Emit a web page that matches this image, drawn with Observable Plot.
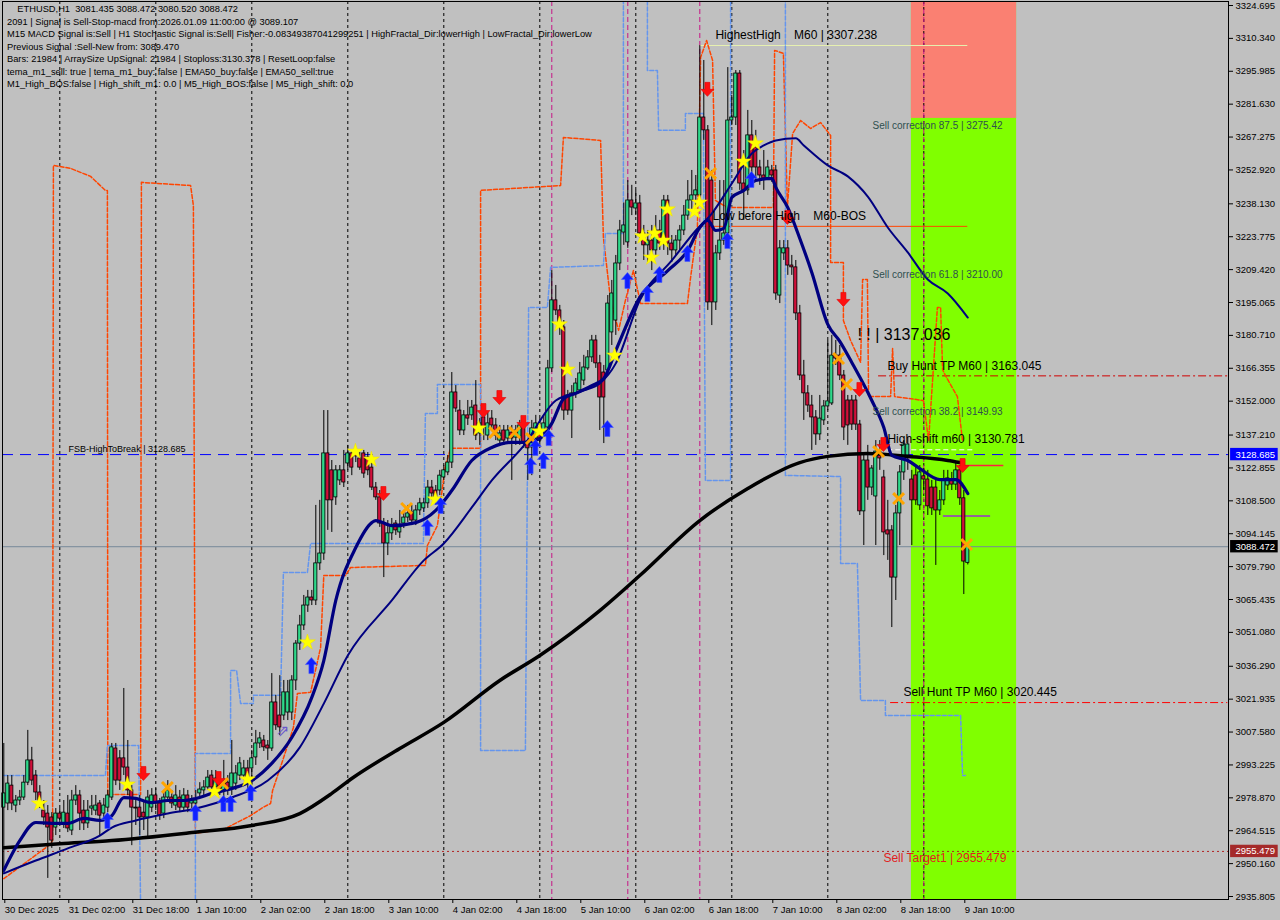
<!DOCTYPE html>
<html>
<head>
<meta charset="utf-8">
<script src="https://cdn.jsdelivr.net/npm/d3@7"></script>
<script src="https://cdn.jsdelivr.net/npm/@observablehq/plot@0.6"></script>
<style>
  body { margin: 0; background: #c0c0c0; }
  #chart { position: relative; width: 1280px; height: 920px; }
  #info { position: absolute; left: 7px; top: 3px; font: 9.3px "Liberation Sans", Arial, sans-serif;
          line-height: 12.5px; color: #000; white-space: pre; }
</style>
</head>
<body>
<div id="chart"><div id="info"></div></div>
<script>
// hourly ETHUSD candles, bar 0 = 30 Dec 10:00
const open = [
  2974.6, 2976.4, 2984.2, 2975.5, 2977.7, 2979.0, 2985.5, 2995.2, 2988.6, 2981.2,
  2973.3, 2972.0, 2970.3, 2965.9, 2972.0, 2967.7, 2972.0, 2964.6, 2977.7, 2979.9,
  2973.3, 2967.7, 2974.2, 2973.3, 2976.4, 2972.0, 2974.6, 2979.0, 3000.4, 2996.1,
  2996.1, 2992.1, 2982.1, 2974.6, 2974.6, 2972.4, 2970.3, 2974.6, 2979.9, 2976.4,
  2972.0, 2979.0, 2979.0, 2975.5, 2979.0, 2974.6, 2979.9, 2976.4, 2976.4, 2980.8,
  2982.1, 2983.4, 2988.6, 2983.4, 2986.4, 2982.1, 2985.5, 2983.4, 2985.1, 2988.6,
  2988.6, 2991.7, 2991.7, 2996.5, 3002.6, 3003.9, 3001.7, 3000.4, 3020.5, 3014.8,
  3014.8, 3016.1, 3016.1, 3030.1, 3046.2, 3054.1, 3062.8, 3066.3, 3065.0, 3081.2,
  3085.5, 3129.2, 3121.8, 3110.0, 3117.4, 3121.8, 3124.8, 3129.2, 3129.2, 3127.0,
  3129.2, 3127.4, 3123.0, 3114.3, 3110.0, 3098.6, 3089.9, 3094.3, 3098.6, 3094.7,
  3098.6, 3101.2, 3103.4, 3099.9, 3104.3, 3105.2, 3107.4, 3114.3, 3113.0, 3113.0,
  3118.7, 3120.9, 3125.2, 3155.8, 3147.9, 3139.2, 3145.8, 3145.8, 3150.1, 3137.9,
  3144.9, 3137.0, 3144.4, 3141.4, 3134.8, 3139.2, 3135.7, 3138.3, 3136.1, 3136.1,
  3140.5, 3133.5, 3131.8, 3136.1, 3140.5, 3139.2, 3140.5, 3166.3, 3196.0, 3191.6,
  3184.2, 3154.5, 3147.9, 3155.4, 3156.7, 3161.0, 3166.3, 3171.1, 3178.5, 3168.5,
  3164.5, 3165.4, 3182.0, 3187.2, 3212.1, 3225.6, 3221.3, 3239.6, 3236.1, 3238.3,
  3225.2, 3220.0, 3222.1, 3217.8, 3226.5, 3220.8, 3239.6, 3220.8, 3217.8, 3222.1,
  3226.5, 3233.0, 3239.6, 3241.8, 3241.8, 3275.8, 3270.2, 3248.3, 3195.1, 3216.5,
  3222.1, 3225.2, 3274.5, 3275.8, 3295.0, 3247.0, 3244.0, 3268.0, 3262.7, 3254.0,
  3250.5, 3249.2, 3252.7, 3252.7, 3198.1, 3216.5, 3218.7, 3211.2, 3210.4, 3190.3,
  3163.2, 3155.4, 3150.1, 3144.9, 3137.5, 3143.6, 3149.7, 3151.0, 3171.9, 3171.9,
  3163.2, 3152.3, 3152.3, 3152.3, 3141.8, 3103.9, 3126.1, 3114.3, 3110.4, 3130.0,
  3118.7, 3095.6, 3095.6, 3075.0, 3103.0, 3120.9, 3128.3, 3117.8, 3119.6, 3106.5,
  3119.2, 3117.8, 3114.3, 3114.3, 3104.3, 3108.7, 3115.2, 3117.4, 3115.6, 3121.8,
  3109.6, 3081.435
];
const high = [
  3002.6, 2988.6, 2988.6, 2979.9, 2982.1, 2988.6, 3008.3, 3000.9, 2990.8, 2984.2,
  2977.7, 2975.5, 2972.4, 2974.2, 2974.2, 2977.7, 2979.9, 2982.1, 2984.2, 2982.1,
  2977.7, 2977.7, 2979.9, 2979.9, 2977.7, 2978.6, 2982.1, 3002.6, 3002.6, 2999.5,
  3026.6, 3003.9, 2984.2, 2977.7, 2979.9, 2977.7, 2982.1, 2982.9, 2982.9, 2978.6,
  2982.1, 2986.4, 2982.1, 2984.2, 2982.1, 2982.9, 2982.1, 2979.9, 2982.1, 2985.5,
  2986.4, 2990.8, 2990.8, 2990.8, 2989.9, 2995.2, 2988.6, 3003.9, 2993.0, 2996.5,
  2995.2, 2995.2, 2999.5, 3008.3, 3007.4, 3006.1, 3003.9, 3033.1, 3023.6, 3032.2,
  3030.1, 3030.1, 3032.2, 3047.5, 3058.5, 3067.2, 3069.4, 3069.4, 3106.5, 3108.7,
  3147.9, 3147.9, 3126.1, 3123.9, 3123.9, 3130.5, 3132.7, 3130.5, 3130.5, 3129.6,
  3130.5, 3129.6, 3126.1, 3116.5, 3113.0, 3100.8, 3099.9, 3100.8, 3099.9, 3104.3,
  3104.3, 3106.5, 3106.5, 3106.5, 3109.6, 3109.6, 3117.4, 3117.4, 3115.2, 3121.8,
  3123.9, 3128.3, 3164.5, 3158.8, 3152.3, 3147.9, 3152.3, 3152.3, 3161.0, 3144.4,
  3147.9, 3147.1, 3147.9, 3144.4, 3141.4, 3141.4, 3141.4, 3141.4, 3141.4, 3143.6,
  3143.6, 3134.8, 3143.6, 3145.8, 3144.4, 3145.8, 3169.8, 3209.0, 3202.5, 3193.8,
  3187.2, 3156.7, 3158.8, 3161.9, 3168.9, 3172.0, 3174.1, 3180.7, 3180.7, 3172.0,
  3167.6, 3198.1, 3204.7, 3215.6, 3230.9, 3238.5, 3248.3, 3246.2, 3244.0, 3241.8,
  3228.7, 3226.5, 3228.7, 3233.0, 3230.9, 3241.8, 3241.8, 3224.3, 3224.3, 3228.7,
  3237.4, 3248.3, 3252.7, 3250.5, 3307.2, 3300.7, 3272.3, 3252.7, 3220.0, 3248.3,
  3248.3, 3297.6, 3285.5, 3296.3, 3296.3, 3261.4, 3278.9, 3274.5, 3270.2, 3257.1,
  3261.4, 3257.1, 3254.9, 3254.9, 3222.1, 3222.1, 3222.1, 3215.6, 3213.4, 3193.8,
  3169.8, 3158.8, 3154.5, 3147.9, 3154.5, 3152.3, 3178.5, 3180.7, 3178.5, 3176.3,
  3165.4, 3154.5, 3154.5, 3154.5, 3143.6, 3128.3, 3132.7, 3123.9, 3134.8, 3134.8,
  3121.8, 3108.7, 3097.7, 3106.5, 3123.9, 3134.8, 3136.1, 3121.8, 3123.9, 3123.9,
  3122.6, 3121.8, 3117.4, 3118.3, 3113.0, 3121.8, 3121.8, 3120.9, 3125.2, 3123.9,
  3113.0, 3088.472
];
const low = [
  2945.9, 2973.3, 2973.3, 2972.4, 2975.5, 2977.7, 2984.2, 2984.2, 2977.7, 2974.2,
  2966.8, 2943.7, 2956.8, 2962.4, 2968.1, 2965.5, 2963.7, 2962.4, 2975.5, 2964.6,
  2964.6, 2965.5, 2971.1, 2971.1, 2962.4, 2969.8, 2972.4, 2977.7, 2984.2, 2982.1,
  2988.6, 2979.9, 2958.0, 2966.8, 2962.4, 2964.6, 2961.5, 2972.4, 2973.3, 2969.0,
  2969.8, 2977.7, 2974.2, 2973.3, 2972.4, 2973.3, 2972.4, 2974.2, 2974.2, 2979.0,
  2979.9, 2982.1, 2979.9, 2981.2, 2979.9, 2977.7, 2979.9, 2979.9, 2982.1, 2986.4,
  2986.4, 2982.1, 2984.2, 2993.0, 3000.4, 2999.1, 2995.2, 2999.1, 3008.3, 3006.1,
  3012.6, 3012.6, 3012.6, 3025.7, 3043.2, 3051.9, 3059.8, 3062.8, 3062.8, 3078.1,
  3082.5, 3095.6, 3094.7, 3106.5, 3115.2, 3114.3, 3121.8, 3119.5, 3125.2, 3121.8,
  3118.3, 3119.5, 3113.0, 3108.7, 3096.9, 3075.0, 3084.6, 3091.2, 3093.4, 3092.1,
  3096.4, 3099.0, 3097.7, 3097.7, 3102.1, 3103.4, 3105.2, 3108.7, 3106.5, 3110.8,
  3117.4, 3119.5, 3122.6, 3147.1, 3137.0, 3137.0, 3141.4, 3143.6, 3134.8, 3132.7,
  3134.8, 3134.8, 3139.2, 3134.8, 3132.7, 3132.7, 3133.5, 3117.4, 3132.7, 3132.7,
  3131.4, 3117.4, 3119.5, 3132.7, 3132.7, 3137.0, 3138.3, 3164.5, 3189.4, 3180.7,
  3143.6, 3145.8, 3135.7, 3153.2, 3155.4, 3158.8, 3165.4, 3168.9, 3166.3, 3139.2,
  3133.5, 3163.2, 3176.3, 3180.7, 3209.0, 3220.0, 3218.7, 3233.0, 3233.0, 3223.0,
  3213.4, 3212.5, 3209.0, 3215.6, 3217.8, 3217.8, 3215.6, 3212.5, 3215.6, 3217.8,
  3224.3, 3230.9, 3235.2, 3237.4, 3239.6, 3265.8, 3191.6, 3185.0, 3191.6, 3213.4,
  3220.0, 3222.1, 3272.3, 3272.3, 3244.0, 3230.9, 3241.8, 3250.5, 3248.3, 3246.2,
  3244.0, 3248.3, 3247.5, 3196.0, 3194.6, 3213.4, 3206.9, 3206.9, 3187.2, 3161.0,
  3143.6, 3147.1, 3130.5, 3132.7, 3134.8, 3141.4, 3147.9, 3150.1, 3167.6, 3161.0,
  3134.8, 3132.7, 3139.2, 3139.2, 3102.1, 3089.0, 3108.7, 3110.8, 3089.0, 3121.8,
  3084.6, 3082.5, 3053.2, 3065.0, 3089.0, 3117.4, 3121.8, 3089.0, 3106.5, 3104.3,
  3113.0, 3102.1, 3102.1, 3080.3, 3102.1, 3106.5, 3113.0, 3113.0, 3113.0, 3106.5,
  3067.6, 3080.520
];
const close = [
  2980.8, 2985.1, 2976.4, 2977.7, 2979.0, 2985.5, 2995.2, 2986.4, 2981.2, 2977.7,
  2970.3, 2965.9, 2960.2, 2972.0, 2969.8, 2972.4, 2965.5, 2977.7, 2979.9, 2972.0,
  2967.7, 2973.3, 2975.1, 2975.5, 2971.1, 2975.5, 2979.9, 3000.9, 2986.4, 2986.4,
  2992.1, 2982.1, 2974.6, 2974.2, 2970.3, 2970.3, 2979.0, 2979.9, 2976.4, 2971.1,
  2979.0, 2982.1, 2976.4, 2979.9, 2974.6, 2979.9, 2974.6, 2977.7, 2977.7, 2982.5,
  2983.4, 2987.7, 2983.4, 2987.3, 2982.1, 2986.4, 2982.9, 2989.5, 2989.5, 2993.9,
  2991.7, 2985.1, 2996.1, 3002.6, 3004.8, 3000.9, 3000.4, 3020.5, 3010.5, 3009.6,
  3024.9, 3024.9, 3030.1, 3046.2, 3054.1, 3062.8, 3066.3, 3065.0, 3081.2, 3085.5,
  3129.2, 3108.7, 3108.7, 3121.8, 3121.8, 3116.5, 3129.2, 3123.0, 3127.9, 3123.0,
  3120.4, 3121.8, 3114.3, 3110.0, 3098.6, 3089.9, 3094.3, 3097.7, 3095.6, 3096.9,
  3101.2, 3103.0, 3099.9, 3104.3, 3107.4, 3107.4, 3114.3, 3111.7, 3108.7, 3119.5,
  3121.8, 3125.2, 3155.8, 3148.8, 3139.2, 3145.8, 3144.4, 3149.2, 3137.0, 3142.3,
  3140.5, 3142.3, 3141.4, 3137.0, 3137.9, 3134.8, 3139.2, 3135.7, 3139.2, 3141.4,
  3133.5, 3131.4, 3140.1, 3142.3, 3134.8, 3142.3, 3166.3, 3196.0, 3191.6, 3184.2,
  3147.9, 3147.9, 3155.4, 3159.7, 3164.1, 3166.7, 3171.1, 3178.5, 3168.5, 3153.6,
  3153.6, 3194.6, 3199.0, 3212.1, 3226.5, 3228.7, 3239.6, 3236.5, 3238.3, 3225.2,
  3220.0, 3222.1, 3217.8, 3226.5, 3220.8, 3239.6, 3220.8, 3217.8, 3222.1, 3226.5,
  3233.0, 3239.6, 3241.8, 3244.0, 3275.8, 3270.2, 3195.1, 3195.1, 3216.5, 3222.1,
  3225.2, 3274.5, 3275.8, 3295.0, 3247.0, 3244.0, 3268.0, 3254.0, 3254.0, 3250.5,
  3249.2, 3254.0, 3250.5, 3199.0, 3218.7, 3218.7, 3211.2, 3210.4, 3190.3, 3163.2,
  3155.4, 3150.1, 3144.9, 3137.5, 3144.4, 3149.7, 3151.9, 3171.9, 3170.6, 3163.2,
  3140.5, 3141.4, 3141.8, 3141.8, 3103.9, 3126.1, 3114.3, 3122.6, 3130.0, 3127.0,
  3094.7, 3093.8, 3075.0, 3103.0, 3120.9, 3133.1, 3133.1, 3108.7, 3108.7, 3120.9,
  3117.8, 3106.1, 3105.2, 3104.3, 3108.7, 3117.8, 3118.3, 3115.6, 3121.8, 3109.6,
  3082.0, 3088.472
];

// moving averages (bar index, price)
const slowMaBar = [0, 14, 27, 47, 62, 74, 82, 87, 99, 110, 124, 134, 149, 159, 174, 186, 199, 206, 216, 226, 236, 239];
const slowMaVal = [2957.1, 2958.8, 2960.2, 2963.7, 2966.8, 2972.0, 2980.8, 2987.3, 3000.4, 3011.8, 3030.1, 3041.0,
  3060.6, 3075.9, 3099.9, 3113.9, 3125.2, 3127.9, 3129.2, 3127.9, 3126.1, 3125.2];
const fastMaBar = [0, 4, 8, 12, 16, 20, 24, 27, 30, 33, 37, 41, 45, 48, 52, 57, 62, 67, 72, 77, 80, 83, 88, 92, 93, 97,
  103, 108, 112, 117, 122, 127, 130, 134, 137, 140, 143, 147, 150, 153, 159, 166, 171, 174, 176, 178, 180, 182, 185,
  188, 192, 193, 196, 199, 202, 206, 209, 212, 217, 220, 222, 226, 229, 234, 238, 241];
const fastMaVal = [2947.2, 2960.2, 2968.1, 2967.7, 2967.7, 2969.9, 2969.0, 2971.1, 2979.0, 2978.6, 2976.8, 2977.7,
  2977.7, 2978.6, 2980.8, 2982.9, 2986.4, 2993.9, 3005.2, 3022.7, 3038.8, 3065.0, 3088.1, 3099.0, 3099.9, 3097.7,
  3099.0, 3104.3, 3113.0, 3126.1, 3131.8, 3134.0, 3134.0, 3135.7, 3142.3, 3153.2, 3155.4, 3158.8, 3161.9, 3174.1,
  3197.3, 3209.0, 3217.8, 3227.8, 3230.9, 3226.5, 3227.4, 3240.9, 3244.0, 3248.3, 3249.2, 3245.3, 3236.5, 3223.0,
  3208.2, 3185.5, 3178.1, 3168.9, 3152.3, 3140.5, 3128.3, 3126.1, 3122.6, 3117.8, 3117.8, 3111.7];
const midMaBar = [0, 8, 16, 24, 27, 33, 41, 48, 57, 66, 74, 80, 86, 97, 105, 110, 117, 122, 130, 138, 145, 149, 153,
  159, 167, 173, 177, 182, 187, 190, 193, 198, 200, 206, 211, 216, 221, 226, 231, 236, 241];
const midMaVal = [2945.9, 2951.5, 2956.8, 2962.4, 2965.9, 2969.0, 2972.0, 2974.2, 2979.0, 2986.4, 3000.9, 3020.0,
  3041.0, 3065.0, 3082.5, 3089.9, 3105.6, 3117.4, 3132.6, 3152.3, 3156.7, 3159.7, 3168.5, 3196.0, 3213.4, 3226.5,
  3233.9, 3247.0, 3260.1, 3263.6, 3265.8, 3266.7, 3263.6, 3254.9, 3250.1, 3241.3, 3227.8, 3216.9, 3205.1, 3199.0, 3188.5];

// fractal channel step lines
const orangeBar = [0, 11.2, 12.2, 12.4, 16.7, 21.7, 25.4, 25.9, 26.0, 34.2, 34.4, 46.7, 47.4, 47.9, 55.4, 61.7, 64.7,
  66.7, 67.2, 69.9, 72.4, 73.4, 76.7, 79.2, 80.0, 85.4, 86.7, 105.4, 105.9, 108.4, 110.4, 111.7, 118.7, 119.2, 119.2,
  139.2, 139.9, 149.2, 149.9, 151.7, 153.7, 155.4, 157.4, 159.2, 170.9, 171.7, 173.4, 174.2, 175.7, 177.2, 177.9,
  180.9, 192.4, 192.7, 194.9, 195.9, 197.2, 199.2, 201.7, 204.2, 206.7, 206.7, 209.9, 209.9, 211.7, 214.2, 214.7,
  215.9, 216.2, 221.7, 222.2, 222.7, 229.9, 231.2, 233.4, 234.2, 234.7, 235.4, 238.4, 239.7];
const orangeVal = [2943.6, 2958.0, 2960.2, 3254.9, 3253.6, 3250.1, 3244.0, 3244.0, 2980.3, 2980.3, 3247.5, 3246.1,
  3237.4, 2963.3, 2965.5, 2971.1, 2974.6, 2976.4, 2982.1, 2996.1, 3009.6, 3024.4, 3024.9, 3044.5, 3075.9, 3075.9,
  3079.4, 3080.3, 3089.0, 3097.7, 3123.9, 3131.4, 3131.4, 3131.4, 3244.0, 3246.1, 3267.1, 3265.8, 3223.4, 3196.0,
  3182.9, 3196.0, 3209.0, 3194.6, 3194.6, 3206.0, 3227.8, 3302.0, 3309.4, 3300.7, 3239.6, 3236.5, 3236.5, 3305.1,
  3303.8, 3236.5, 3268.8, 3274.5, 3271.0, 3273.6, 3268.0, 3212.5, 3212.5, 3187.2, 3178.5, 3168.9, 3205.1, 3205.1,
  3154.0, 3154.0, 3175.0, 3154.0, 3152.3, 3134.8, 3192.9, 3192.9, 3165.8, 3163.2, 3154.0, 3134.4];
const blueBar = [0, 25.4, 25.9, 33.7, 34.2, 47.9, 47.9, 56.7, 56.7, 58.2, 59.2, 62.4, 62.4, 69.2, 69.9, 75.9, 76.7,
  104.9, 105.4, 108.4, 108.4, 119.2, 119.2, 130.4, 131.2, 135.9, 136.7, 149.9, 150.4, 154.9, 154.9, 160.9, 160.9,
  163.4, 163.7, 170.4, 170.4, 174.9, 175.4, 181.7, 181.7, 195.4, 195.4, 209.2, 209.2, 213.4, 214.2, 220.4, 220.4,
  239.2, 239.7, 240.4];
const blueVal = [2988.6, 2988.6, 3001.7, 3001.7, 2931.9, 2931.9, 2998.2, 2998.2, 3034.4, 3034.4, 3020.0, 3020.0,
  3023.6, 3023.6, 3077.2, 3077.2, 3089.9, 3089.9, 3146.6, 3146.6, 3159.3, 3159.3, 2999.5, 2999.5, 3192.9, 3192.9,
  3210.4, 3211.2, 3225.2, 3225.2, 3331.3, 3331.3, 3296.3, 3296.3, 3270.2, 3270.2, 3277.6, 3277.6, 3117.4, 3117.4,
  3331.3, 3331.3, 3119.6, 3119.1, 3081.2, 3081.2, 3021.4, 3021.4, 3014.8, 3014.8, 2988.6, 2988.6];

// signal markers
const starBar = [8.9, 30.9, 52.7, 60.9, 75.9, 87.9, 91.9, 107.9, 118.7, 133.9, 138.9, 140.9, 152.7, 159.7, 162.7,
  164.9, 161.9, 165.9, 172.7, 173.9, 184.9, 187.9];
const starPrice = [2976.4, 2984.7, 2981.6, 2986.9, 3046.7, 3130.0, 3126.5, 3109.1, 3140.1, 3138.8, 3185.5, 3165.8,
  3171.9, 3223.9, 3225.2, 3222.1, 3214.7, 3235.7, 3234.8, 3238.7, 3256.6, 3264.5];
const downBar = [34.9, 53.7, 94.9, 119.9, 123.9, 129.9, 175.9, 195.9, 209.9, 213.9, 219.9, 239.7];
const downPrice = [2989.5, 2987.3, 3111.7, 3147.9, 3153.6, 3142.7, 3288.1, 3232.2, 3196.4, 3157.1, 3133.1, 3123.9];
const upBar = [25.9, 47.9, 54.9, 56.7, 61.7, 76.9, 105.9, 109.2, 131.7, 132.9, 134.9, 136.2, 150.9, 155.9, 160.9,
  163.9, 170.9, 180.9, 186.9];
const upPrice = [2969.0, 2972.5, 2976.4, 2976.4, 2981.2, 3036.6, 3096.9, 3106.5, 3123.9, 3131.8, 3126.1, 3136.1,
  3140.1, 3204.7, 3199.0, 3207.3, 3216.5, 3222.1, 3248.8];
const crossBar = [40.9, 54.7, 100.7, 122.7, 127.7, 131.9, 176.7, 208.7, 210.7, 218.7, 223.7, 240.7];
const crossPrice = [2983.4, 2985.1, 3105.2, 3138.3, 3138.3, 3135.7, 3251.4, 3170.6, 3159.3, 3130.0, 3109.5, 3089.4];

// chart objects
const daySepBars = [14, 38, 62, 86, 110, 134, 158, 182, 206, 230];
const signalBars = [137, 156, 174, 230];
const zoneBars = [226.9, 253.2];
const sellCorr875 = 3275.42;
const fsbHigh = 3128.685;
const lastPrice = 3088.472;
const sellTarget = 2955.479;
const buyHuntTP = 3163.045;
const sellHuntTP = 3020.445;
const highestHigh = 3307.238;
const lowBeforeHigh = 3228.3;
const highShift = 3130.781;

const noteText = [
  "HighestHigh    M60 | 3307.238", "Low before High    M60-BOS",
  "Buy Hunt TP M60 | 3163.045", "High-shift m60 | 3130.781", "Sell Hunt TP M60 | 3020.445"
];
const noteBar = [177.9, 177.2, 220.9, 220.9, 224.9];
const notePrice = [3311.6, 3232.6, 3167.1, 3135.3, 3024.8];
const corrText = ["Sell correction 87.5 | 3275.42", "Sell correction 61.8 | 3210.00", "Sell correction 38.2 | 3149.93"];
const corrPrice = [3272.3, 3207.3, 3147.5];

const yTicks = [3324.695, 3310.340, 3295.985, 3281.630, 3267.275, 3252.920, 3238.130, 3223.775, 3209.420, 3195.065,
  3180.710, 3166.355, 3152.000, 3137.210, 3122.855, 3108.500, 3094.145, 3079.790, 3065.435, 3051.080, 3036.290,
  3021.935, 3007.580, 2993.225, 2978.870, 2964.515, 2950.160, 2935.805];
const xTickBars = [0, 16, 32, 48, 64, 80, 96, 112, 128, 144, 160, 176, 192, 208, 224, 240];
const xTickLabels = ["30 Dec 2025", "31 Dec 02:00", "31 Dec 18:00", "1 Jan 10:00", "2 Jan 02:00", "2 Jan 18:00",
  "3 Jan 10:00", "4 Jan 02:00", "4 Jan 18:00", "5 Jan 10:00", "6 Jan 02:00", "6 Jan 18:00", "7 Jan 10:00",
  "8 Jan 02:00", "8 Jan 18:00", "9 Jan 10:00"];
const tagPrices = [fsbHigh, lastPrice, sellTarget];
const tagFills = ["#0000ff", "#000000", "#a52a2a"];

const infoLines = [
  "    ETHUSD,H1  3081.435 3088.472 3080.520 3088.472",
  "2091 | Signal is Sell-Stop-macd from:2026.01.09 11:00:00 @ 3089.107",
  "M15 MACD Signal is:Sell | H1 Stochastic Signal is:Sell| Fisher:-0.08349387041299251 | HighFractal_Dir:lowerHigh | LowFractal_Dir:lowerLow",
  "Previous Signal :Sell-New from: 3089.470",
  "Bars: 21984 | ArraySize UpSignal: 21984 | Stoploss:3130.378 | ResetLoop:false",
  "tema_m1_sell: true | tema_m1_buy: false | EMA50_buy:false | EMA50_sell:true",
  "M1_High_BOS:false | High_shift_m1: 0.0 | M5_High_BOS:false | M5_High_shift: 0.0"
];

// arrow glyphs like the terminal's wingdings arrows
const upArrow = {
  draw(ctx) {
    ctx.moveTo(0, -8); ctx.lineTo(6, -1); ctx.lineTo(2.5, -1); ctx.lineTo(2.5, 8);
    ctx.lineTo(-2.5, 8); ctx.lineTo(-2.5, -1); ctx.lineTo(-6, -1); ctx.closePath();
  }
};
const downArrow = {
  draw(ctx) {
    ctx.moveTo(0, 7); ctx.lineTo(6.5, 0); ctx.lineTo(2.5, 0); ctx.lineTo(2.5, -7);
    ctx.lineTo(-2.5, -7); ctx.lineTo(-2.5, 0); ctx.lineTo(-6.5, 0); ctx.closePath();
  }
};

const bars = open.map((o, i) => ({i, o, h: high[i], l: low[i], c: close[i]}));
const xLabel = new Map(xTickBars.map((b, i) => [b, xTickLabels[i]]));

let chart = Plot.plot({
  width: 1280,
  height: 920,
  marginLeft: 2,
  marginRight: 52,
  marginTop: 1,
  marginBottom: 21,
  style: {background: "#c0c0c0", fontFamily: "Liberation Sans, Arial, sans-serif", fontSize: "9.5px", color: "black"},
  x: {type: "linear", domain: [0, 306], range: [3.3, 1227.3]},
  y: {domain: [2935.805, 3324.695], range: [896, 5]},
  marks: [
    // zone boxes
    Plot.rect([0], {x1: zoneBars[0], x2: zoneBars[1], y1: 2900, y2: 3340, fill: "#80ff00", clip: true}),
    Plot.rect([0], {x1: zoneBars[0], x2: zoneBars[1], y1: sellCorr875, y2: 3340, fill: "#fa8072", clip: true}),
    // separators
    Plot.ruleX(daySepBars, {stroke: "black", strokeDasharray: "3,3"}),
    Plot.ruleX(signalBars, {stroke: "#c71585", strokeDasharray: "5,3"}),
    // horizontal levels
    Plot.ruleY([sellTarget], {stroke: "#b22222", strokeDasharray: "2,3"}),
    Plot.ruleY([lastPrice], {stroke: "#778899"}),
    Plot.ruleY([fsbHigh], {stroke: "#0000ff", strokeDasharray: "11,7"}),
    Plot.ruleY([buyHuntTP], {x1: 218.7, x2: 306, stroke: "#d00000", strokeDasharray: "8,3,2,3"}),
    Plot.ruleY([sellHuntTP], {x1: 221.7, x2: 306, stroke: "#ff0000", strokeDasharray: "8,3,2,3"}),
    Plot.ruleY([highestHigh], {x1: 174, x2: 241, stroke: "#e6f0b0"}),
    Plot.ruleY([lowBeforeHigh], {x1: 174, x2: 241, stroke: "#ff4500"}),
    Plot.ruleY([highShift], {x1: 219, x2: 243, stroke: "white", strokeDasharray: "5,3"}),
    Plot.ruleY([3123.9], {x1: 239.2, x2: 250, stroke: "#ff2040", strokeWidth: 1.5}),
    Plot.ruleY([3101.9], {x1: 234.9, x2: 246.7, stroke: "#9932cc", strokeWidth: 1.5}),
    // fractal channels
    Plot.line(orangeVal, {x: orangeBar, y: orangeVal, stroke: "#ff4500", strokeDasharray: "4,2", clip: true}),
    Plot.line(blueVal, {x: blueBar, y: blueVal, stroke: "#6495ed", strokeDasharray: "4,2", clip: true}),
    // candles
    Plot.ruleX(bars, {x: "i", y1: "l", y2: "h", stroke: "black"}),
    Plot.rect(bars, {x1: d => d.i - 0.4, x2: d => d.i + 0.4, y1: "o", y2: "c",
      fill: d => d.c >= d.o ? "#2ed88a" : "#d0103a", stroke: "black", strokeWidth: 0.8}),
    // moving averages
    Plot.line(slowMaVal, {x: slowMaBar, y: slowMaVal, stroke: "black", strokeWidth: 3.5, curve: "monotone-x"}),
    Plot.line(midMaVal, {x: midMaBar, y: midMaVal, stroke: "#000080", strokeWidth: 2, curve: "monotone-x"}),
    Plot.line(fastMaVal, {x: fastMaBar, y: fastMaVal, stroke: "#000080", strokeWidth: 3.2, curve: "monotone-x"}),
    // signals
    Plot.dot(crossPrice, {x: crossBar, y: crossPrice, symbol: "times", r: 5, stroke: "#ffa500", strokeWidth: 3}),
    Plot.dot(starPrice, {x: starBar, y: starPrice, symbol: "star", r: 5, fill: "#ffff00", stroke: "#f0e000", strokeWidth: 0.5}),
    Plot.dot(upPrice, {x: upBar, y: upPrice, symbol: upArrow, fill: "#1020ff", stroke: "#4a5cff", strokeWidth: 0.6}),
    Plot.dot(downPrice, {x: downBar, y: downPrice, symbol: downArrow, fill: "#ff1010", stroke: "#e00000", strokeWidth: 0.6}),
    Plot.text([3008.1], {x: 69.7, y: d => d, text: d => "⇗", fill: "#6a5acd", fontSize: 16, fontFamily: "DejaVu Sans"}),
    // annotations
    Plot.text(noteText, {x: noteBar, y: notePrice, text: d => d, textAnchor: "start", fontSize: 12, fill: "black"}),
    Plot.text(corrText, {x: 217.2, y: corrPrice, text: d => d, textAnchor: "start", fontSize: 10, fill: "#2f4f4f"}),
    Plot.text(["! ! | 3137.036"], {x: 213.4, y: 3181.1, text: d => d, textAnchor: "start", fontSize: 16, fill: "black"}),
    Plot.text(["Sell Target1 | 2955.479"], {x: 219.9, y: 2952.4, text: d => d, textAnchor: "start", fontSize: 12, fill: "#e02020"}),
    Plot.text(["FSB-HighToBreak | 3128.685"], {x: 16.2, y: 3130.9, text: d => d, textAnchor: "start", fontSize: 9, fill: "black"}),
    // axes
    Plot.frame({stroke: "black"}),
    Plot.axisY(yTicks, {anchor: "right", tickSize: 4, tickPadding: 3, tickFormat: d => d.toFixed(3), label: null, fontSize: 9.5}),
    Plot.axisX(xTickBars, {anchor: "bottom", tickSize: 4, tickPadding: 3, tickFormat: d => xLabel.get(d),
      textAnchor: "start", dx: 1, label: null, fontSize: 9.5}),
    // price tags on the axis
    Plot.rect(tagPrices, {x1: 306.7, x2: 318.6, y1: d => d - 2.7, y2: d => d + 2.7, fill: (d, i) => tagFills[i]}),
    Plot.text(tagPrices, {x: 307.9, y: d => d, text: d => d.toFixed(3), textAnchor: "start", fill: "white", fontSize: 9.5})
  ]
});

d3.select("#chart").append(() => chart);
d3.select("#info").text(infoLines.join("\n"));
</script>
</body>
</html>
